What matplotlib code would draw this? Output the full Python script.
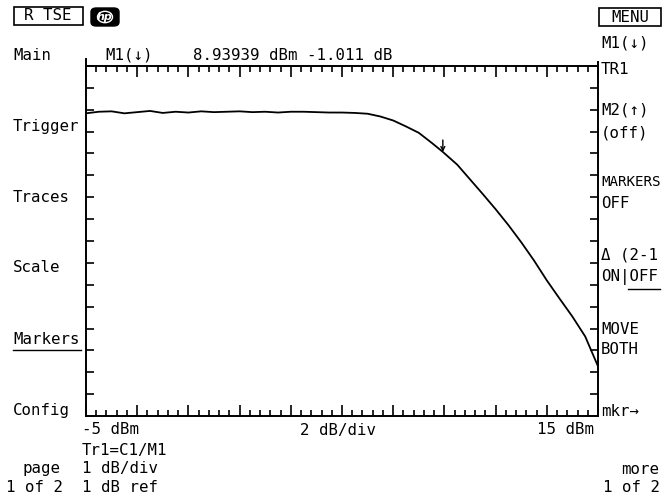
import numpy as np
import matplotlib
matplotlib.use("Agg")
import matplotlib.pyplot as plt
from matplotlib.lines import Line2D
from matplotlib.patches import Rectangle, FancyBboxPatch, Circle

# Trace data: gain (dB, relative) vs input power (dBm)
input_dbm = [-5.0, -4.5, -4.0, -3.5, -3.0, -2.5, -2.0, -1.5, -1.0, -0.5,
             0.0, 0.5, 1.0, 1.5, 2.0, 2.5, 3.0, 3.5, 4.0, 4.5,
             5.0, 5.5, 6.0, 6.5, 7.0, 7.5, 8.0, 8.5, 8.94, 9.5,
             10.0, 10.5, 11.0, 11.5, 12.0, 12.5, 13.0, 13.5, 14.0, 14.5, 15.0]
gain_db = [-0.04, 0.00, 0.01, -0.04, -0.01, 0.02, -0.03, 0.00, -0.02, 0.01,
           -0.01, 0.00, 0.01, -0.01, 0.00, -0.02, 0.00, 0.00, -0.01, -0.02,
           -0.02, -0.03, -0.05, -0.12, -0.22, -0.37, -0.53, -0.78, -1.011, -1.33,
           -1.70, -2.07, -2.45, -2.85, -3.28, -3.74, -4.24, -4.70, -5.15, -5.65, -6.40]

marker_dbm = 8.93939
marker_db = -1.011

x_start, x_stop = -5, 15
left_keys = ["Main", "Trigger", "Traces", "Scale", "Markers", "Config"]
right_keys = ["M1(↓)", "TR1", "M2(↑)", "(off)", "MARKERS", "OFF",
              "Δ (2-1", "ON|OFF", "MOVE", "BOTH", "mkr→"]

W, H = 663, 501
FONT = "DejaVu Sans Mono"
FS = 11.3

fig = plt.figure(figsize=(W / 100, H / 100), dpi=100)
fig.patch.set_facecolor("white")


def put(x, y, s, **kw):
    kw.setdefault("fontsize", FS)
    fig.text(x / W, 1 - y / H, s, family=FONT,
             va="center", color="black", **kw)


def seg(x0, x1, y0, y1, lw=1.0):
    fig.add_artist(Line2D([x0 / W, x1 / W], [1 - y0 / H, 1 - y1 / H],
                          color="black", lw=lw))


# Plot area
ax = fig.add_axes([86 / W, 1 - 416 / H, 512 / W, 350 / H])
ylo, yhi = -7.65, 1.15
ax.plot(input_dbm, gain_db, color="black", lw=1.3)
ax.annotate("", xy=(marker_dbm, marker_db), xytext=(marker_dbm, marker_db + 0.3),
            arrowprops=dict(arrowstyle="->", lw=1.0, color="black",
                            shrinkA=0, shrinkB=0, mutation_scale=7))
ax.set_xlim(x_start, x_stop)
ax.set_ylim(ylo, yhi)

ax.set_xticks(np.arange(x_start, x_stop + 0.01, 2))
ax.set_xticks(np.arange(x_start, x_stop + 0.01, 0.4), minor=True)
ax.set_yticks(np.linspace(ylo, yhi, 17))
ax.tick_params(axis="x", which="both", direction="in", top=True, bottom=True,
               labelbottom=False, width=1.2, color="black")
ax.tick_params(axis="x", which="major", length=8)
ax.tick_params(axis="x", which="minor", length=4)
ax.tick_params(axis="y", which="major", direction="in", left=True, right=True,
               labelleft=False, length=6, width=1.2)
for sp in ax.spines.values():
    sp.set_linewidth(1.4)
    sp.set_color("black")

# small stubs of the frame above the top edge
seg(86, 86, 59, 66, lw=1.4)
seg(598, 598, 62, 66, lw=1.4)

# Header boxes
fig.add_artist(Rectangle((14 / W, 1 - 25 / H), 69 / W, 18 / H, fill=False,
                         lw=1.2, ec="black", transform=fig.transFigure))
fig.text(48 / W, 1 - 16 / H, "R TSE", fontsize=FS, family=FONT,
         ha="center", va="center")
fig.add_artist(FancyBboxPatch((91 / W, 1 - 26 / H), 28 / W, 18 / H,
                              boxstyle="round,pad=0,rounding_size=0.008",
                              fc="black", ec="black", transform=fig.transFigure))
fig.add_artist(Circle((105 / W, 1 - 17 / H), 7.5 / W, fill=False, ec="white",
                      lw=1.0, transform=fig.transFigure))
fig.text(105 / W, 1 - 17 / H, "hp", fontsize=8, style="italic", weight="bold",
         color="white", ha="center", va="center")
fig.add_artist(Rectangle((599 / W, 1 - 26 / H), 62 / W, 18 / H, fill=False,
                         lw=1.2, ec="black", transform=fig.transFigure))
fig.text(630 / W, 1 - 17 / H, "MENU", fontsize=FS, family=FONT,
         ha="center", va="center")

# Marker readout
put(105, 55, "M1(↓)")
put(193, 55, f"{marker_dbm:.5f} dBm {marker_db:.3f} dB")

# Left softkeys
for label, y in zip(left_keys, [55, 127, 198, 268, 339, 410]):
    put(13, y, label)
seg(13, 81, 350, 350)

# Right softkeys
for label, y in zip(right_keys, [43, 70, 110, 133, 182, 203, 255, 277, 330, 350, 411]):
    put(601, y, label, fontsize=10.2 if len(label) > 6 else FS)
seg(628, 660, 289, 289)

# Bottom annotations
put(82, 430, f"{x_start} dBm")
put(300, 430, "2 dB/div")
put(594, 430, f"{x_stop} dBm", ha="right")
put(82, 450, "Tr1=C1/M1")
put(82, 469, "1 dB/div")
put(82, 488, "1 dB ref")
put(23, 469, "page")
put(6, 488, "1 of 2")
put(640, 469, "more", ha="center")
put(603, 488, "1 of 2")

fig.savefig("out.png", dpi=100)
